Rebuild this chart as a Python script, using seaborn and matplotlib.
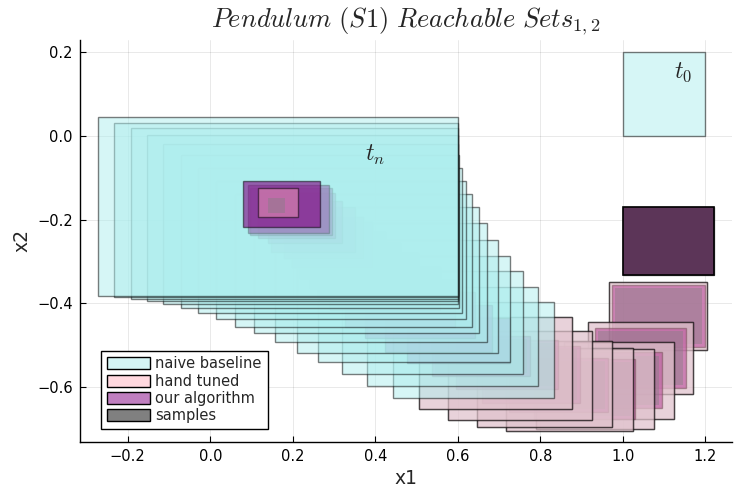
import matplotlib
matplotlib.use("Agg")
import matplotlib.pyplot as plt
from matplotlib.colors import to_rgba
from matplotlib.patches import Rectangle, Patch
import seaborn as sns

# reachable set boxes per time step: (x1_lo, x1_hi, x2_lo, x2_hi)
naive_steps = list(range(26))
naive_boxes = [
    (1.000, 1.200, 0.000, 0.200),
    (1.000, 1.221, -0.333, -0.170),
    (0.966, 1.204, -0.512, -0.349),
    (0.915, 1.170, -0.617, -0.445),
    (0.857, 1.124, -0.677, -0.493),
    (0.789, 1.075, -0.701, -0.510),
    (0.716, 1.024, -0.706, -0.507),
    (0.646, 0.973, -0.696, -0.490),
    (0.576, 0.925, -0.679, -0.467),
    (0.505, 0.877, -0.653, -0.433),
    (0.442, 0.833, -0.627, -0.397),
    (0.379, 0.794, -0.598, -0.361),
    (0.319, 0.758, -0.569, -0.323),
    (0.261, 0.726, -0.541, -0.287),
    (0.210, 0.697, -0.519, -0.249),
    (0.156, 0.670, -0.493, -0.208),
    (0.105, 0.651, -0.471, -0.170),
    (0.059, 0.634, -0.457, -0.139),
    (0.013, 0.620, -0.438, -0.108),
    (-0.030, 0.610, -0.423, -0.077),
    (-0.072, 0.603, -0.411, -0.045),
    (-0.115, 0.600, -0.402, -0.019),
    (-0.154, 0.600, -0.395, 0.002),
    (-0.193, 0.600, -0.390, 0.019),
    (-0.234, 0.600, -0.385, 0.031),
    (-0.273, 0.600, -0.383, 0.045),
]

hand_steps = [2, 3, 4, 5, 6, 7, 8, 9, 25]
hand_boxes = [
    (0.966, 1.204, -0.512, -0.349),
    (0.915, 1.170, -0.617, -0.445),
    (0.857, 1.124, -0.677, -0.493),
    (0.789, 1.075, -0.701, -0.510),
    (0.716, 1.024, -0.706, -0.507),
    (0.646, 0.973, -0.696, -0.490),
    (0.576, 0.925, -0.679, -0.467),
    (0.505, 0.877, -0.653, -0.433),
    (0.115, 0.212, -0.194, -0.124),
]

ours_steps = list(range(1, 26))
ours_boxes = [
    (1.000, 1.221, -0.333, -0.170),
    (0.973, 1.199, -0.505, -0.356),
    (0.932, 1.153, -0.603, -0.459),
    (0.872, 1.095, -0.651, -0.517),
    (0.784, 1.029, -0.677, -0.533),
    (0.724, 0.964, -0.660, -0.531),
    (0.658, 0.896, -0.639, -0.502),
    (0.595, 0.843, -0.605, -0.488),
    (0.537, 0.775, -0.574, -0.478),
    (0.476, 0.726, -0.543, -0.435),
    (0.423, 0.682, -0.517, -0.404),
    (0.375, 0.641, -0.483, -0.373),
    (0.326, 0.593, -0.457, -0.344),
    (0.290, 0.557, -0.416, -0.313),
    (0.261, 0.503, -0.392, -0.280),
    (0.241, 0.460, -0.364, -0.256),
    (0.217, 0.423, -0.340, -0.230),
    (0.198, 0.392, -0.313, -0.206),
    (0.178, 0.370, -0.292, -0.194),
    (0.147, 0.350, -0.278, -0.170),
    (0.139, 0.319, -0.256, -0.156),
    (0.115, 0.302, -0.244, -0.136),
    (0.096, 0.295, -0.237, -0.124),
    (0.091, 0.287, -0.232, -0.117),
    (0.079, 0.266, -0.218, -0.108),
]

sample_steps = [2, 3, 4, 5, 6, 7, 8, 9, 25]
sample_boxes = [
    (0.980, 1.192, -0.498, -0.363),
    (0.940, 1.145, -0.595, -0.467),
    (0.880, 1.087, -0.643, -0.525),
    (0.792, 1.021, -0.669, -0.541),
    (0.732, 0.956, -0.652, -0.539),
    (0.666, 0.888, -0.631, -0.510),
    (0.603, 0.835, -0.597, -0.496),
    (0.545, 0.767, -0.566, -0.486),
    (0.139, 0.181, -0.184, -0.148),
]

labels = ["naive baseline", "hand tuned", "our algorithm", "samples"]

sns.set_theme(style="whitegrid")
plt.rcParams["font.family"] = ["DejaVu Sans"]
plt.rcParams["mathtext.fontset"] = "cm"

fig = plt.figure(figsize=(7.47, 4.98), dpi=100)
ax = fig.add_axes([0.107, 0.113, 0.873, 0.807])
ax.set_facecolor("white")

styles = {
    "naive": dict(color="#AFEEEE", alpha=0.5, edge=True),
    "ours": dict(color="#800080", alpha=0.6, edge=True),
    "hand": dict(color="#FFA8B8", alpha=0.45, edge=True),
    "samples": dict(color="#808080", alpha=0.4, edge=False),
}


def add_box(box, style, first=False):
    x0, x1, y0, y1 = box
    if first:
        face, edge, lw = "#5C3558", "black", 1.2
    else:
        face = to_rgba(style["color"], style["alpha"])
        edge = (0, 0, 0, 0.5) if style["edge"] else "none"
        lw = 1.0
    ax.add_patch(Rectangle((x0, y0), x1 - x0, y1 - y0,
                           facecolor=face, edgecolor=edge, lw=lw))


for t in naive_steps:
    add_box(naive_boxes[naive_steps.index(t)], styles["naive"])
    if t in ours_steps:
        add_box(ours_boxes[ours_steps.index(t)], styles["ours"],
                first=(t == ours_steps[0]))
    if t in hand_steps:
        add_box(hand_boxes[hand_steps.index(t)], styles["hand"])
    if t in sample_steps:
        add_box(sample_boxes[sample_steps.index(t)], styles["samples"])

ax.set_xlim(-0.316, 1.265)
ax.set_ylim(-0.731, 0.23)
ax.set_xticks([-0.2, 0.0, 0.2, 0.4, 0.6, 0.8, 1.0, 1.2])
ax.set_yticks([-0.6, -0.4, -0.2, 0.0, 0.2])
ax.grid(True, color="black", alpha=0.1, lw=0.6)
ax.set_axisbelow(True)
sns.despine(ax=ax)
for side in ["left", "bottom"]:
    ax.spines[side].set_color("black")
    ax.spines[side].set_linewidth(1.0)
ax.tick_params(direction="in", length=4, width=0.8, colors="black",
               labelsize=10.5, left=True, bottom=True, pad=5)

ax.set_xlabel("x1", fontsize=13.5)
ax.set_ylabel("x2", fontsize=13.5)
ax.set_title(r"$Pendulum\ (S1)\ Reachable\ Sets_{1,2}$", fontsize=19, pad=9)

ax.text(1.145, 0.153, r"$t_0$", fontsize=17, ha="center", va="center")
ax.text(0.399, -0.045, r"$t_n$", fontsize=17, ha="center", va="center")

handles = [
    Patch(facecolor="#D4F5F5", edgecolor="black"),
    Patch(facecolor="#FFD8DF", edgecolor="black"),
    Patch(facecolor="#C07FC0", edgecolor="black"),
    Patch(facecolor="#808080", edgecolor="black"),
]
leg = ax.legend(handles, labels, loc="lower left", bbox_to_anchor=(0.032, 0.032),
                borderaxespad=0, fontsize=10.5, frameon=True, fancybox=False,
                handlelength=2.95, handleheight=0.9, labelspacing=0.15,
                handletextpad=0.4, borderpad=0.4)
leg.get_frame().set_edgecolor("black")
leg.get_frame().set_linewidth(1.0)
leg.get_frame().set_alpha(1)

fig.savefig("out.png", dpi=100)
